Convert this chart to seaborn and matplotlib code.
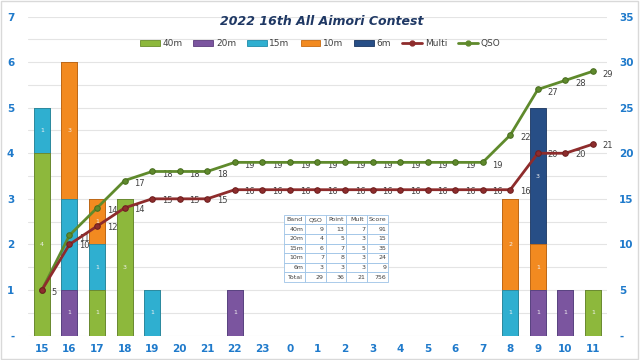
import numpy as np
import pandas as pd
import matplotlib
matplotlib.use("Agg")
import matplotlib.pyplot as plt
import seaborn as sns
from matplotlib.lines import Line2D
from matplotlib.patches import Patch, Rectangle

hours = ["15", "16", "17", "18", "19", "20", "21", "22", "23", "0", "1", "2",
         "3", "4", "5", "6", "7", "8", "9", "10", "11"]
band_40m = [4, 0, 1, 3, 0, 0, 0, 0, 0, 0, 0, 0, 0, 0, 0, 0, 0, 0, 0, 0, 1]
band_20m = [0, 1, 0, 0, 0, 0, 0, 1, 0, 0, 0, 0, 0, 0, 0, 0, 0, 0, 1, 1, 0]
band_15m = [1, 2, 1, 0, 1, 0, 0, 0, 0, 0, 0, 0, 0, 0, 0, 0, 0, 1, 0, 0, 0]
band_10m = [0, 3, 1, 0, 0, 0, 0, 0, 0, 0, 0, 0, 0, 0, 0, 0, 0, 2, 1, 0, 0]
band_6m = [0, 0, 0, 0, 0, 0, 0, 0, 0, 0, 0, 0, 0, 0, 0, 0, 0, 0, 3, 0, 0]
multi = [5, 10, 12, 14, 15, 15, 15, 16, 16, 16, 16, 16, 16, 16, 16, 16, 16, 16, 20, 20, 21]
qso = [5, 11, 14, 17, 18, 18, 18, 19, 19, 19, 19, 19, 19, 19, 19, 19, 19, 22, 27, 28, 29]

band_names = ["40m", "20m", "15m", "10m", "6m"]
table_header = ["Band", "QSO", "Point", "Mult", "Score"]
table_band = ["40m", "20m", "15m", "10m", "6m", "Total"]
table_qso = [9, 4, 6, 7, 3, 29]
table_point = [13, 5, 7, 8, 3, 36]
table_mult = [7, 3, 5, 3, 3, 21]
table_score = [91, 15, 35, 24, 9, 756]

title = "2022 16th All Aimori Contest"

colors = {"40m": "#8DB83C", "20m": "#7B559F", "15m": "#2FAFD0",
          "10m": "#F28A20", "6m": "#274E86"}
edges = {"40m": "#6A8E2A", "20m": "#5C3C7C", "15m": "#1F8AA8",
         "10m": "#C86A10", "6m": "#1A3560"}
multi_color = "#8E2C2C"
qso_color = "#5F8A2C"
tick_color = "#1F7ACB"

sns.set_style("white")
plt.rcParams['font.family'] = ['DejaVu Sans']

fig = plt.figure(figsize=(6.4, 3.6), dpi=100)
ax = fig.add_axes([0.044, 0.068, 0.904, 0.886])

bands = [band_40m, band_20m, band_15m, band_10m, band_6m]
cums = np.cumsum(np.array(bands), axis=0)
n = len(hours)
# draw tallest (cumulative) first so lower layers overlay
for k in range(len(bands) - 1, -1, -1):
    name = band_names[k]
    df = pd.DataFrame({"hour": hours, "val": cums[k]})
    sns.barplot(data=df, x="hour", y="val", order=hours, color=colors[name],
                saturation=1, width=0.58, edgecolor=edges[name], linewidth=0.6,
                ax=ax, zorder=2)

# segment labels
for k, name in enumerate(band_names):
    for i in range(n):
        v = bands[k][i]
        if v > 0:
            bottom = cums[k][i] - v
            ax.text(i, bottom + v / 2, str(v), ha="center", va="center",
                    fontsize=4.5, color="#F0F0F0", zorder=5)

ax.set_xlim(-0.5, n - 0.5)
ax.set_ylim(0, 7)
ax.set_yticks(range(0, 8))
ax.set_yticklabels(["-"] + [str(i) for i in range(1, 8)])
ax.set_yticks(np.arange(0, 7.01, 0.5), minor=True)
ax.grid(True, which="both", axis="y", color="#E4E4E4", linewidth=0.8)
ax.set_axisbelow(True)
ax.set_xlabel("")
ax.set_ylabel("")
ax.tick_params(axis="both", which="both", length=0)
ax.tick_params(axis="y", pad=10, labelsize=7.5, labelcolor=tick_color)
ax.tick_params(axis="x", pad=6, labelsize=7.5, labelcolor=tick_color)
for lbl in ax.get_xticklabels() + ax.get_yticklabels():
    lbl.set_fontweight("bold")
for s in ax.spines.values():
    s.set_visible(False)

ax2 = ax.twinx()
xs = np.arange(n)
sns.lineplot(x=xs, y=qso, ax=ax2, color=qso_color, linewidth=2, marker="o",
             markersize=4, markeredgecolor="#4A6E20", zorder=4)
sns.lineplot(x=xs, y=multi, ax=ax2, color=multi_color, linewidth=2, marker="o",
             markersize=4, markeredgecolor="#6E1F1F", zorder=4)
for i in range(n):
    ax2.annotate(str(qso[i]), (i, qso[i]), xytext=(7, -2), textcoords="offset points",
                 fontsize=6, color="#404040", va="center", ha="left")
    if i != 0:
        ax2.annotate(str(multi[i]), (i, multi[i]), xytext=(7, -1), textcoords="offset points",
                     fontsize=6, color="#404040", va="center", ha="left")
ax2.set_ylim(0, 35)
ax2.set_yticks(range(0, 36, 5))
ax2.set_yticklabels(["-"] + [str(i) for i in range(5, 36, 5)])
ax2.tick_params(axis="y", length=0, pad=9, labelsize=7.5, labelcolor=tick_color)
for lbl in ax2.get_yticklabels():
    lbl.set_fontweight("bold")
ax2.set_xlim(-0.5, n - 0.5)
ax2.set_ylabel("")
ax2.grid(False)
for s in ax2.spines.values():
    s.set_visible(False)

fig.text(0.502, 0.939, title, ha="center", va="center", fontsize=9,
         fontstyle="italic", fontweight="bold", color="#1F3864")

handles = [Patch(facecolor=colors[b], edgecolor=edges[b], linewidth=0.6) for b in band_names]
handles += [Line2D([0], [0], color=multi_color, lw=2, marker="o", markersize=3.5),
            Line2D([0], [0], color=qso_color, lw=2, marker="o", markersize=3.5)]
labels = band_names + ["Multi", "QSO"]
fig.legend(handles, labels, loc="center", bbox_to_anchor=(0.5, 0.878), ncol=7,
           frameon=False, fontsize=6.5, handlelength=2.2, handleheight=0.6,
           columnspacing=1.2, handletextpad=0.3, labelcolor="#404040")

# summary table
tax = fig.add_axes([0.444, 0.217, 0.162, 0.186])
tax.axis("off")
cells = [[table_band[r], str(table_qso[r]), str(table_point[r]), str(table_mult[r]),
          str(table_score[r])] for r in range(len(table_band))]
tbl = tax.table(cellText=cells, colLabels=table_header, bbox=[0, 0, 1, 1],
                cellLoc="right")
tbl.auto_set_font_size(False)
for (r, c), cell in tbl.get_celld().items():
    cell.set_edgecolor("#9DC3E6")
    cell.set_linewidth(0.6)
    cell.set_facecolor("white")
    cell.get_text().set_fontsize(4.5)
    cell.get_text().set_color("#404040")
    cell.PAD = 0.08

fig.add_artist(Rectangle((0.002, 0.003), 0.995, 0.994, transform=fig.transFigure,
                         fill=False, edgecolor="#D9D9D9", linewidth=1))

fig.savefig("out.png", dpi=100, facecolor="white")
